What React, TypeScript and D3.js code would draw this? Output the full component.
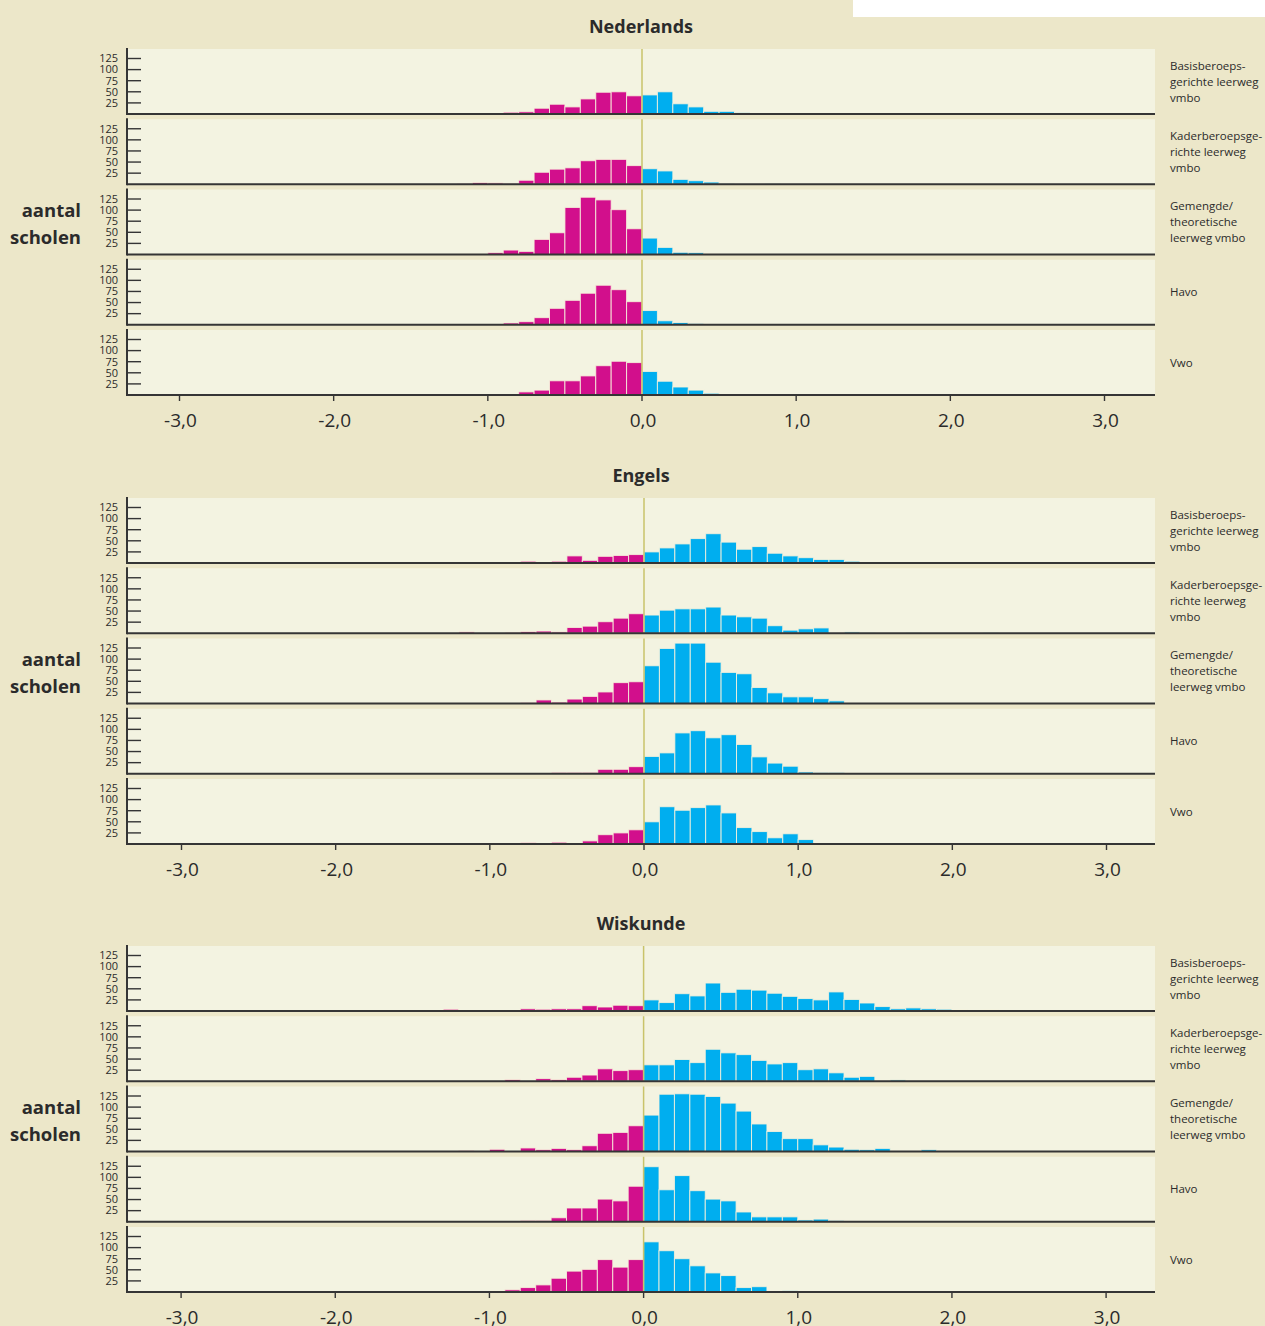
import React from "react";
import * as d3 from "d3";

// ---- data: counts per bin of width 0.1, first bin starts at -1.5 ----
const BIN_START = -1.5;
const BIN_W = 0.1;

const sectionTitles = ["Nederlands", "Engels", "Wiskunde"];
const levelLabels = [
  ["Basisberoeps-", "gerichte leerweg", "vmbo"],
  ["Kaderberoepsge-", "richte leerweg", "vmbo"],
  ["Gemengde/", "theoretische", "leerweg vmbo"],
  ["Havo"],
  ["Vwo"],
];

const nlBasis = [0,0,0,1,0,1,4,5,13,22,16,34,49,50,41, 43,50,23,16,6,6,3,1];
const nlKader = [0,0,0,1,4,3,2,9,27,34,37,53,56,56,42, 35,30,11,8,5,2,0,0,1];
const nlGemengde = [0,0,0,1,1,4,10,7,34,49,106,129,123,101,58, 37,16,5,4,1];
const nlHavo = [0,0,0,0,0,1,4,7,16,37,55,71,89,79,52, 32,9,5,3,1];
const nlVwo = [0,0,0,0,0,0,0,7,11,32,32,43,66,76,73, 53,31,18,11,4,1];

const enBasis = [0,0,0,0,0,0,1,4,2,4,16,6,15,17,19, 25,34,43,55,66,47,31,37,22,16,12,8,8,4,1];
const enKader = [0,0,0,3,0,0,2,4,5,3,13,16,26,34,44, 41,52,55,55,59,41,37,34,17,7,10,12,0,3,1,0,0,1,0,0,0,0,1];
const enGemengde = [0,0,0,0,0,0,0,2,8,3,10,16,26,47,49, 85,124,136,136,93,70,67,36,24,15,15,11,6];
const enHavo = [0,0,0,0,0,0,0,0,1,3,3,3,10,10,16, 39,47,92,97,81,88,66,38,24,17,4,3,3];
const enVwo = [0,0,0,0,0,0,1,3,0,4,2,7,21,25,32, 50,84,76,82,88,70,37,28,14,23,10,0,0,1];

const wiBasis = [0,0,4,0,0,0,0,5,4,5,5,12,9,13,12, 25,19,39,34,63,42,49,47,40,33,28,25,43,26,18,10,5,7,5,4,2,0,2];
const wiKader = [0,0,0,0,0,0,4,0,6,4,9,14,28,24,26, 37,37,49,42,72,64,60,47,39,42,26,28,19,9,11,0,3];
const wiGemengde = [0,0,0,2,0,5,0,8,4,7,4,13,41,43,58, 82,129,130,129,124,109,91,62,45,29,29,15,10,5,4,7,0,0,4];
const wiHavo = [0,0,0,0,0,0,0,3,3,9,31,31,51,47,80, 124,72,104,70,51,47,22,11,11,11,4,6,3];
const wiVwo = [0,0,0,0,0,2,5,10,16,31,47,51,73,56,73, 113,93,75,59,43,37,10,12,0,3,0,1];

const sectionData = [
  [nlBasis, nlKader, nlGemengde, nlHavo, nlVwo],
  [enBasis, enKader, enGemengde, enHavo, enVwo],
  [wiBasis, wiKader, wiGemengde, wiHavo, wiVwo],
];

const yTicks = [25, 50, 75, 100, 125];
const xTicks = [-3, -2, -1, 0, 1, 2, 3];
const xTickLabels = ["-3,0", "-2,0", "-1,0", "0,0", "1,0", "2,0", "3,0"];

// ---- layout / style ----
const W = 1265;
const H = 1326;
const PLOT_L = 127;
const PLOT_R = 1155;
const SECTION_Y = [0, 449, 897];
const SECTION_DX = [-1, 1, 0.6];
const FIRST_BASE = 114;
const PANEL_STEP = 70.25;
const PANEL_H = 65;
const Y_MAX = 146.4;

const BG = "#ece7c9";
const PANEL_BG = "#f3f3e1";
const MAGENTA = "#d20f8c";
const BLUE = "#00aeef";
const ZERO = "#c9c36a";
const AXIS = "#353535";
const TEXT = "#2b2b2b";
const FONT = "'Open Sans', 'Noto Sans', sans-serif";

function Panel({ data, base, x, labels }) {
  const y = d3.scaleLinear().domain([0, Y_MAX]).range([base, base - PANEL_H]);
  const top = base - PANEL_H;
  const center = base - PANEL_H / 2;
  return (
    <g>
      <rect x={PLOT_L} y={top} width={PLOT_R - PLOT_L} height={PANEL_H} fill={PANEL_BG} />
      {data.map((v, i) => {
        if (!v) return null;
        const x0 = BIN_START + i * BIN_W;
        const neg = i < Math.round(-BIN_START / BIN_W);
        const xa = x(x0);
        const xb = x(x0 + BIN_W);
        return (
          <rect
            key={i}
            x={xa}
            y={y(v)}
            width={xb - xa}
            height={y(0) - y(v)}
            fill={neg ? MAGENTA : BLUE}
            stroke="#f7f2dc"
            strokeOpacity={0.85}
            strokeWidth={1}
          />
        );
      })}
      <line x1={x(0)} x2={x(0)} y1={top} y2={base} stroke={ZERO} strokeWidth={1.5} />
      {/* left axis */}
      <line x1={PLOT_L} x2={PLOT_L} y1={top - 1} y2={base + 1} stroke={AXIS} strokeWidth={2} />
      {yTicks.map((t) => (
        <g key={t}>
          <line x1={PLOT_L} x2={PLOT_L + 14} y1={y(t)} y2={y(t)} stroke={AXIS} strokeWidth={1.4} />
          <text
            x={118}
            y={y(t) + 3.8}
            textAnchor="end"
            fontSize={11}
            fill={TEXT}
            fontFamily={FONT}
          >
            {t}
          </text>
        </g>
      ))}
      {/* bottom axis */}
      <line x1={PLOT_L} x2={PLOT_R} y1={base} y2={base} stroke={AXIS} strokeWidth={2} />
      {/* right label */}
      {labels.map((l, k) => (
        <text
          key={k}
          x={1170}
          y={center - ((labels.length - 1) * 16) / 2 + k * 16 + 4}
          fontSize={11.5}
          fill={TEXT}
          fontFamily={FONT}
        >
          {l}
        </text>
      ))}
    </g>
  );
}

function Section({ idx }) {
  const oy = SECTION_Y[idx];
  const dx = SECTION_DX[idx];
  const x = d3.scaleLinear().domain([-3, 3]).range([180.5 + dx, 1105.5 + dx]);
  const panels = sectionData[idx];
  const lastBase = oy + FIRST_BASE + PANEL_STEP * (panels.length - 1);
  return (
    <g>
      <text
        x={641}
        y={oy + 33}
        textAnchor="middle"
        fontSize={18}
        fontWeight="bold"
        fill={TEXT}
        fontFamily={FONT}
      >
        {sectionTitles[idx]}
      </text>
      <text x={81} y={oy + 217} textAnchor="end" fontSize={18.5} fontWeight="bold" fill={TEXT} fontFamily={FONT}>
        aantal
      </text>
      <text x={81} y={oy + 244} textAnchor="end" fontSize={18.5} fontWeight="bold" fill={TEXT} fontFamily={FONT}>
        scholen
      </text>
      {panels.map((d, p) => (
        <Panel
          key={p}
          data={d}
          base={oy + FIRST_BASE + PANEL_STEP * p}
          x={x}
          labels={levelLabels[p]}
        />
      ))}
      {xTicks.map((t, k) => (
        <g key={t}>
          <line x1={x(t)} x2={x(t)} y1={lastBase} y2={lastBase + 6} stroke={AXIS} strokeWidth={1.4} />
          <text
            x={x(t) + 1}
            y={lastBase + 32}
            textAnchor="middle"
            fontSize={19}
            fill={TEXT}
            fontFamily={FONT}
          >
            {xTickLabels[k]}
          </text>
        </g>
      ))}
    </g>
  );
}

export default function App() {
  return (
    <svg
      width={W}
      height={H}
      viewBox={`0 0 ${W} ${H}`}
      style={{ position: "absolute", left: 0, top: 0, display: "block" }}
    >
      <rect x={0} y={0} width={W} height={H} fill={BG} />
      <rect x={853} y={0} width={W - 853} height={17} fill="#ffffff" />
      {sectionTitles.map((_, i) => (
        <Section key={i} idx={i} />
      ))}
    </svg>
  );
}
